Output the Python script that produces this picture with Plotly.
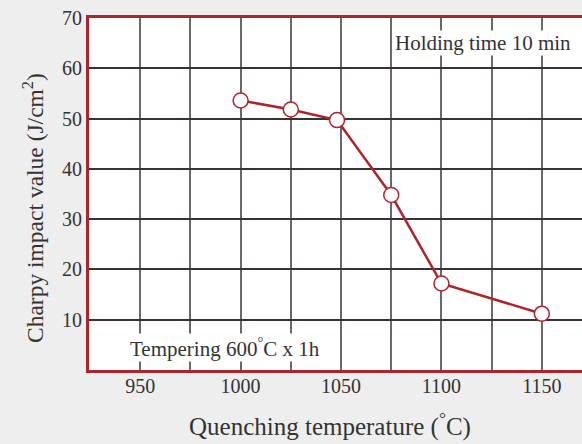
import plotly.graph_objects as go

temps = [1000, 1025, 1048, 1075, 1100, 1150]
charpy = [53.6, 51.8, 49.7, 34.8, 17.2, 11.2]

x_tickvals = [950, 975, 1000, 1025, 1050, 1075, 1100, 1125, 1150]
x_ticktext = ["950", "", "1000", "", "1050", "", "1100", "", "1150"]
y_tickvals = [10, 20, 30, 40, 50, 60, 70]
y_ticktext = ["10", "20", "30", "40", "50", "60", "70"]

RED = "#ad252c"
TXT = "#333333"
FONT = "Liberation Serif"
W, H = 582, 444

fig = go.Figure()
fig.add_trace(go.Scatter(
    x=temps, y=charpy, mode="lines+markers",
    line=dict(color=RED, width=2.5),
    marker=dict(size=15, color="white", line=dict(color=RED, width=1.5)),
    showlegend=False, cliponaxis=False,
))

fig.add_annotation(text="Holding time 10 min", xref="paper", yref="y",
                   x=(572 - 89) / 493, y=65, xanchor="right", yanchor="middle",
                   showarrow=False, bgcolor="white", borderpad=0,
                   font=dict(family=FONT, size=21, color=TXT))
fig.add_annotation(text="Tempering 600<sup>°</sup>C x 1h", xref="x", yref="y",
                   x=992, y=4.5, xanchor="center", yanchor="middle",
                   showarrow=False, bgcolor="white", borderpad=0,
                   font=dict(family=FONT, size=21, color=TXT))

# axis titles as annotations (paper coords relative to plot area 89..582, 18..370)
fig.add_annotation(text="Quenching temperature (<sup>°</sup>C)", xref="paper", yref="paper",
                   x=(330 - 89) / 493, y=-(424 - 370) / 352, xanchor="center", yanchor="middle",
                   showarrow=False, font=dict(family=FONT, size=25, color=TXT))
fig.add_annotation(text="Charpy impact value (J/cm<sup>2</sup>)", xref="paper", yref="paper",
                   x=-(89 - 33) / 493, y=(370 - 208) / 352, xanchor="center", yanchor="middle",
                   textangle=-90, showarrow=False, font=dict(family=FONT, size=23.5, color=TXT))

fig.update_layout(
    width=W, height=H,
    margin=dict(l=89, r=0, t=18, b=74),
    paper_bgcolor="#eeeeee", plot_bgcolor="white",
    font=dict(family=FONT, color=TXT),
    xaxis=dict(
        range=[924.5, 1170], tickvals=x_tickvals, ticktext=x_ticktext,
        showgrid=True, gridcolor="#6e6767", gridwidth=1.5,
        showline=True, linecolor=RED, linewidth=3, mirror=True,
        ticks="", tickfont=dict(size=20, color=TXT), zeroline=False,
        ticklabelstandoff=-4,
    ),
    yaxis=dict(
        range=[0, 70], tickvals=y_tickvals, ticktext=y_ticktext,
        showgrid=True, gridcolor="#3a3232", gridwidth=1.5,
        showline=True, linecolor=RED, linewidth=3, mirror=False,
        ticks="", tickfont=dict(size=20, color=TXT), zeroline=False,
    ),
)

fig.write_html("out.html", config={"displayModeBar": False},
               post_script="document.body.style.margin='0';document.body.style.overflow='hidden';")
